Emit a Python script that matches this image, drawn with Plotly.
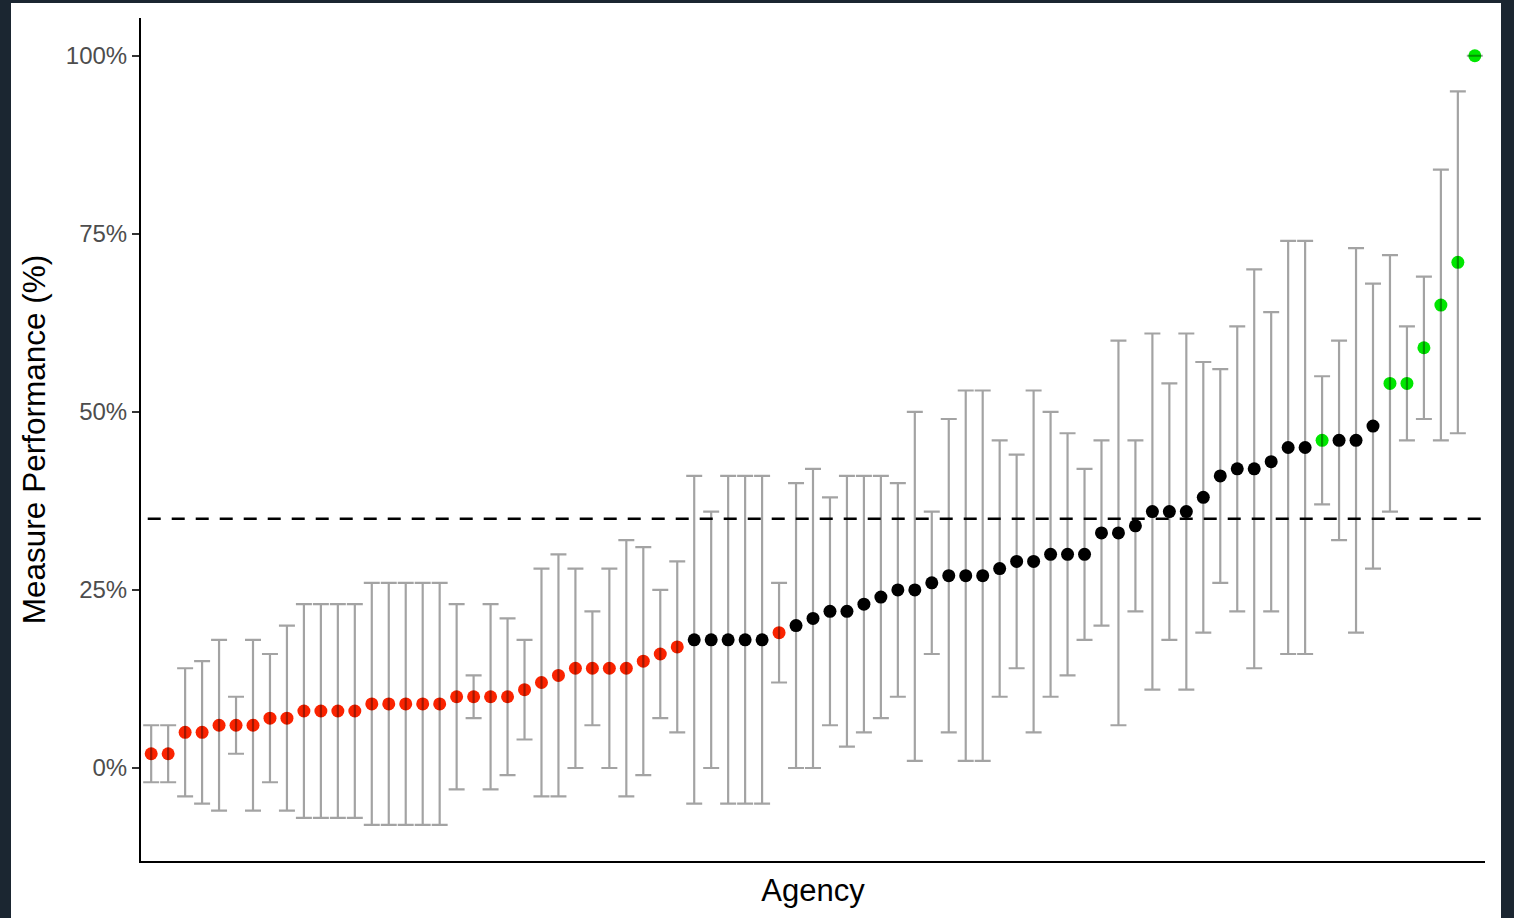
import plotly.graph_objects as go

# ---- data ----
agency_rank = list(range(1, 80))
performance = [2, 2, 5, 5, 6, 6, 6, 7, 7, 8,
               8, 8, 8, 9, 9, 9, 9, 9, 10, 10,
               10, 10, 11, 12, 13, 14, 14, 14, 14, 15,
               16, 17, 18, 18, 18, 18, 18, 19, 20, 21,
               22, 22, 23, 24, 25, 25, 26, 27, 27, 27,
               28, 29, 29, 30, 30, 30, 33, 33, 34, 36,
               36, 36, 38, 41, 42, 42, 43, 45, 45, 46,
               46, 46, 48, 54, 54, 59, 65, 71, 100]
lower_ci = [-2, -2, -4, -5, -6, 2, -6, -2, -6, -7,
            -7, -7, -7, -8, -8, -8, -8, -8, -3, 7,
            -3, -1, 4, -4, -4, 0, 6, 0, -4, -1,
            7, 5, -5, 0, -5, -5, -5, 12, 0, 0,
            6, 3, 5, 7, 10, 1, 16, 5, 1, 1,
            10, 14, 5, 10, 13, 18, 20, 6, 22, 11,
            18, 11, 19, 26, 22, 14, 22, 16, 16, 37,
            32, 19, 28, 36, 46, 49, 46, 47, 100]
upper_ci = [6, 6, 14, 15, 18, 10, 18, 16, 20, 23,
            23, 23, 23, 26, 26, 26, 26, 26, 23, 13,
            23, 21, 18, 28, 30, 28, 22, 28, 32, 31,
            25, 29, 41, 36, 41, 41, 41, 26, 40, 42,
            38, 41, 41, 41, 40, 50, 36, 49, 53, 53,
            46, 44, 53, 50, 47, 42, 46, 60, 46, 61,
            54, 61, 57, 56, 62, 70, 64, 74, 74, 55,
            60, 73, 68, 72, 62, 69, 84, 95, 100]
status = (["low"] * 32 + ["mid"] * 5 + ["low"] + ["mid"] * 31 +
          ["high"] + ["mid"] * 3 + ["high"] * 6)
benchmark = 35
y_tick_values = [0, 25, 50, 75, 100]
y_tick_labels = ["0%", "25%", "50%", "75%", "100%"]

status_colors = {"low": "#FA2300", "mid": "#000000", "high": "#00E600"}
point_colors = [status_colors[s] for s in status]
err_plus = [u - v for u, v in zip(upper_ci, performance)]
err_minus = [v - l for v, l in zip(performance, lower_ci)]

fig = go.Figure()

# points
fig.add_trace(go.Scatter(
    x=agency_rank, y=performance, mode="markers",
    marker=dict(size=13, color=point_colors, line=dict(width=0)),
    showlegend=False, hoverinfo="skip"))

# error bars drawn on top of the points
fig.add_trace(go.Scatter(
    x=agency_rank, y=performance, mode="markers",
    marker=dict(size=1, color="rgba(0,0,0,0)"),
    error_y=dict(type="data", symmetric=False, array=err_plus,
                 arrayminus=err_minus, color="rgba(0,0,0,0.36)",
                 thickness=2.2, width=8),
    showlegend=False, hoverinfo="skip"))

# benchmark dashed line
fig.add_shape(type="line", xref="paper", x0=0.005, x1=1, yref="y",
              y0=benchmark, y1=benchmark,
              line=dict(color="black", width=2.6, dash="13px,11px"))

# white panel on a dark page border
W, H = 1514, 918
ml, mr, mt, mb = 141, 29, 18, 57
pw, ph = W - ml - mr, H - mt - mb
fig.add_shape(type="rect", xref="paper", yref="paper", layer="below",
              x0=(11 - ml) / pw, x1=(1501 - ml) / pw,
              y0=((H - mb) - H) / ph, y1=((H - mb) - 3) / ph,
              fillcolor="white", line=dict(width=0))

fig.update_layout(
    width=W, height=H,
    margin=dict(l=ml, r=mr, t=mt, b=mb, pad=0),
    paper_bgcolor="#1B2631", plot_bgcolor="white",
    font=dict(family="Liberation Sans, Arial, sans-serif"),
    xaxis=dict(range=[0.4, 79.6], showticklabels=False, ticks="",
               showgrid=False, zeroline=False, showline=True,
               linecolor="black", linewidth=2,
               title=dict(text="Agency", font=dict(size=31, color="black"),
                          standoff=17)),
    yaxis=dict(range=[-13.06, 105.3], tickvals=y_tick_values,
               ticktext=y_tick_labels, ticks="outside", ticklen=7,
               tickwidth=2, tickcolor="#333333",
               tickfont=dict(size=24, color="#4D4D4D"),
               showgrid=False, zeroline=False, showline=True,
               linecolor="black", linewidth=2,
               title=dict(text="Measure Performance (%)",
                          font=dict(size=31.5, color="black"), standoff=11)),
)

fig.write_html("out.html",
               config={"displayModeBar": False},
               post_script="document.body.style.margin='0';"
                           "document.body.style.overflow='hidden';")
